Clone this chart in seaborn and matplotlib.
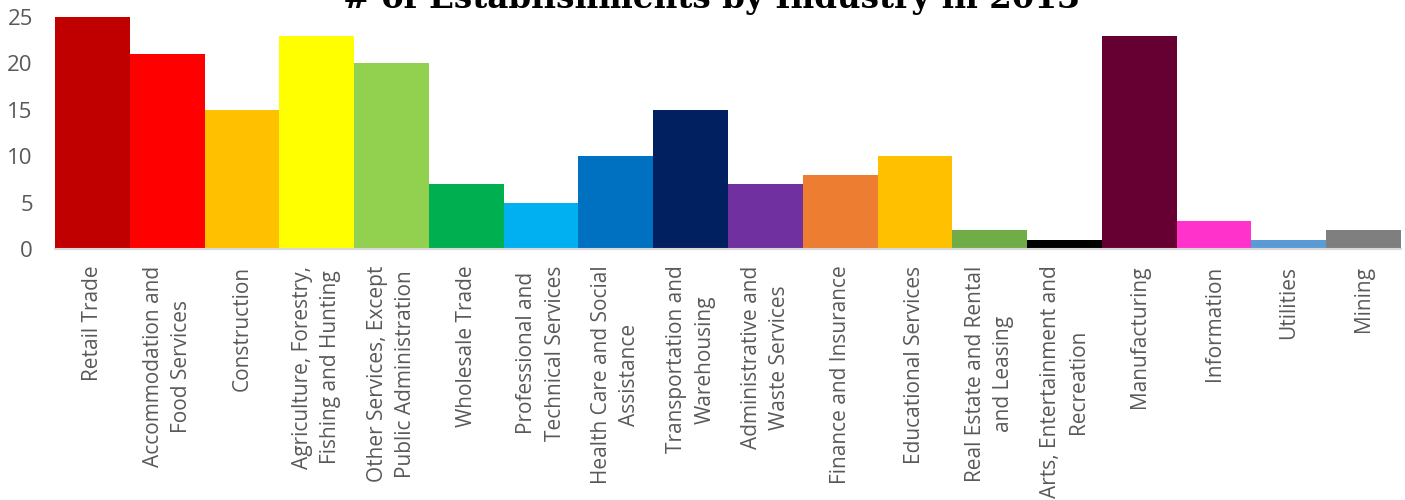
import matplotlib
matplotlib.use("Agg")
import matplotlib.pyplot as plt
import seaborn as sns

# data
industries = [
    "Retail Trade",
    "Accommodation and\nFood Services",
    "Construction",
    "Agriculture, Forestry,\nFishing and Hunting",
    "Other Services, Except\nPublic Administration",
    "Wholesale Trade",
    "Professional and\nTechnical Services",
    "Health Care and Social\nAssistance",
    "Transportation and\nWarehousing",
    "Administrative and\nWaste Services",
    "Finance and Insurance",
    "Educational Services",
    "Real Estate and Rental\nand Leasing",
    "Arts, Entertainment and\nRecreation",
    "Manufacturing",
    "Information",
    "Utilities",
    "Mining",
]
establishments = [25, 21, 15, 23, 20, 7, 5, 10, 15, 7, 8, 10, 2, 1, 23, 3, 1, 2]
bar_colors = [
    "#C00000", "#FF0000", "#FFC000", "#FFFF00", "#92D050", "#00B050",
    "#00B0F0", "#0070C0", "#002060", "#7030A0", "#ED7D31", "#FFC000",
    "#70AD47", "#000000", "#660033", "#FF33CC", "#5B9BD5", "#7F7F7F",
]
y_ticks = [0, 5, 10, 15, 20, 25]

sns.set_style("white")
plt.rcParams["font.family"] = ["Open Sans", "DejaVu Sans"]

fig = plt.figure(figsize=(14.05, 5.0), dpi=100)
ax = fig.add_axes([55 / 1405, 1 - 249 / 500, (1401 - 55) / 1405, (249 - 17) / 500])

sns.barplot(
    x=industries, y=establishments, hue=industries, palette=bar_colors,
    width=1.0, saturation=1, legend=False, linewidth=0, ax=ax,
)

ax.set_xlim(-0.5, len(industries) - 0.5)
ax.set_ylim(0, 25)
ax.set_yticks(y_ticks)
ax.set_yticklabels([str(t) for t in y_ticks], fontsize=16, color="#595959")
ax.tick_params(axis="both", length=0)
ax.tick_params(axis="x", pad=12)
ax.tick_params(axis="y", pad=16)
ax.set_xticks(range(len(industries)))
ax.set_xticklabels(industries, rotation=90, fontsize=15, color="#595959",
                   ha="center", va="top", multialignment="center", linespacing=1.45)
ax.set_xlabel("")
ax.set_ylabel("")

for side in ["top", "right", "left"]:
    ax.spines[side].set_visible(False)
ax.spines["bottom"].set_color("#D9D9D9")
ax.spines["bottom"].set_linewidth(1.5)

fig.text(711 / 1405, 1 - 8 / 500, "# of Establishments by Industry in 2013",
         ha="center", va="baseline", fontsize=23.5, fontweight="bold",
         family="DejaVu Serif", color="black")

fig.savefig("out.png", dpi=100)
